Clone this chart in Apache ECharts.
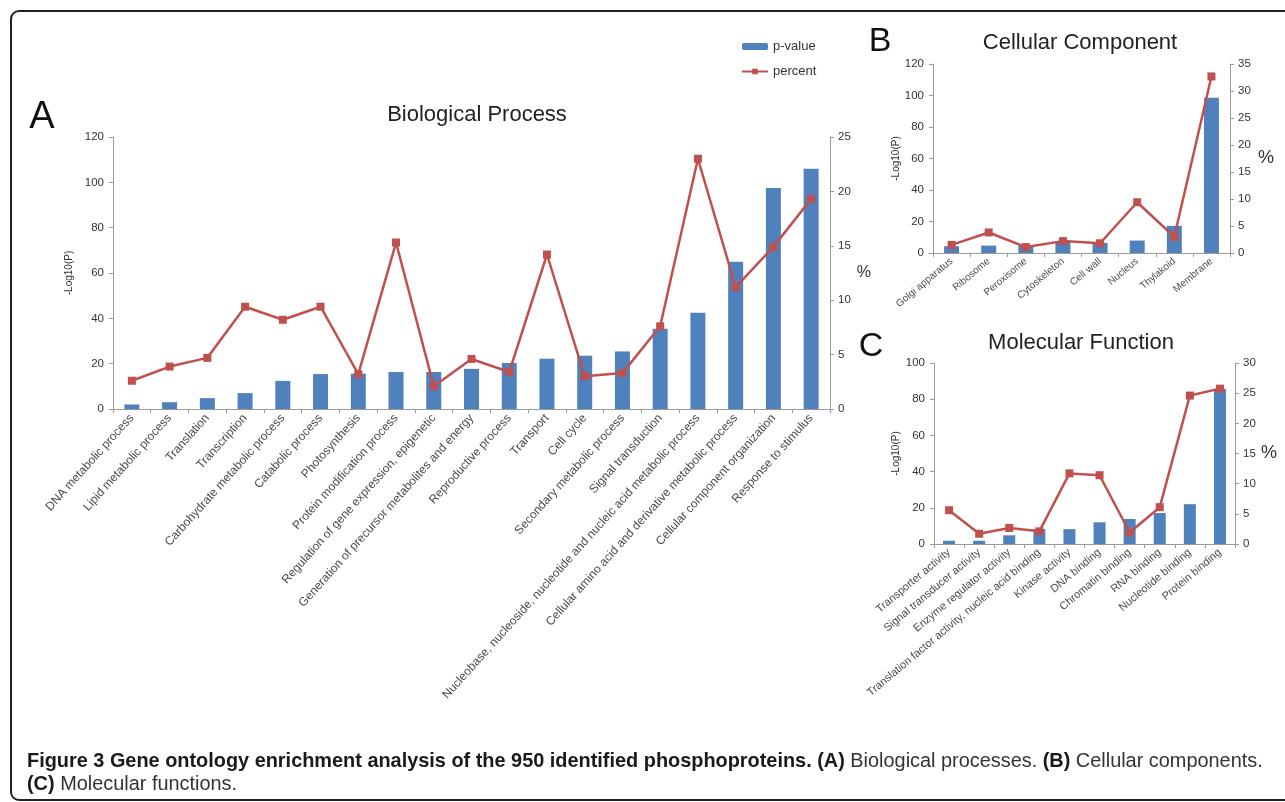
<!DOCTYPE html>
<html>
<head>
<meta charset="utf-8">
<title>Gene ontology enrichment analysis</title>
<script src="https://cdn.jsdelivr.net/npm/echarts@6/dist/echarts.min.js"></script>
<style>
  html, body { margin: 0; padding: 0; background: #fff; }
  #chart { width: 1285px; height: 802px; }
</style>
</head>
<body>
<div id="chart"></div>
<script>
// (A) Biological Process
var bpCategories = [
  'DNA metabolic process', 'Lipid metabolic process', 'Translation', 'Transcription',
  'Carbohydrate metabolic process', 'Catabolic process', 'Photosynthesis',
  'Protein modification process', 'Regulation of gene expression, epigenetic',
  'Generation of precursor metabolites and energy', 'Reproductive process', 'Transport',
  'Cell cycle', 'Secondary metabolic process', 'Signal transduction',
  'Nucleobase, nucleoside, nucleotide and nucleic acid metabolic process',
  'Cellular amino acid and derivative metabolic process',
  'Cellular component organization', 'Response to stimulus'
];
var bpPValue = [2, 3, 4.8, 7, 12.4, 15.4, 15.6, 16.3, 16.3, 17.7, 20.3, 22.2, 23.5, 25.4, 35.4, 42.5, 65, 97.5, 106];
var bpPercent = [2.6, 3.9, 4.7, 9.4, 8.2, 9.4, 3.2, 15.3, 2.1, 4.6, 3.4, 14.2, 3.0, 3.3, 7.6, 23.0, 11.2, 14.9, 19.3];

// (B) Cellular Component
var ccCategories = ['Golgi apparatus', 'Ribosome', 'Peroxisome', 'Cytoskeleton', 'Cell wall', 'Nucleus', 'Thylakoid', 'Membrane'];
var ccPValue = [4.3, 4.7, 4.5, 7.2, 6.4, 7.9, 17.2, 98.5];
var ccPercent = [1.5, 3.8, 1.1, 2.2, 1.8, 9.4, 3.0, 32.7];

// (C) Molecular Function
var mfCategories = [
  'Transporter activity', 'Signal transducer activity', 'Enzyme regulator activity',
  'Translation factor activity, nucleic acid binding', 'Kinase activity', 'DNA binding',
  'Chromatin binding', 'RNA binding', 'Nucleotide binding', 'Protein binding'
];
var mfPValue = [1.8, 1.8, 4.8, 8.3, 8.2, 12, 13.8, 17.1, 22, 85.6];
var mfPercent = [5.6, 1.7, 2.65, 2.1, 11.7, 11.4, 1.9, 6.1, 24.6, 25.75];

// axis limits [min, max, interval]
var bpLeftAxis = [0, 120, 20], bpRightAxis = [0, 25, 5];
var ccLeftAxis = [0, 120, 20], ccRightAxis = [0, 35, 5];
var mfLeftAxis = [0, 100, 20], mfRightAxis = [0, 30, 5];

var FONT = '"Liberation Sans", Arial, sans-serif';
var BLUE = '#4F81BD';
var RED = '#C0504D';
var AXIS_GRAY = '#9a9a9a';

var xAxisOf = function (gridIndex, data, rotate, size) {
  return {
    type: 'category',
    gridIndex: gridIndex,
    data: data,
    axisLine: { lineStyle: { color: AXIS_GRAY } },
    axisTick: { show: true, length: 4, lineStyle: { color: AXIS_GRAY } },
    axisLabel: { interval: 0, rotate: rotate, fontSize: size, color: '#4a4a4a', fontFamily: FONT, margin: 7 }
  };
};

var yAxisOf = function (gridIndex, lim, position, name, nameGap, nameSize) {
  return {
    type: 'value',
    gridIndex: gridIndex,
    position: position,
    min: lim[0],
    max: lim[1],
    interval: lim[2],
    name: name,
    nameLocation: 'middle',
    nameGap: nameGap,
    nameRotate: position === 'left' ? 90 : 0,
    nameTextStyle: { fontSize: nameSize, color: '#333', fontFamily: FONT },
    axisLine: { show: true, lineStyle: { color: AXIS_GRAY } },
    axisTick: { show: true, length: 4, lineStyle: { color: AXIS_GRAY } },
    splitLine: { show: false },
    axisLabel: { fontSize: 11.5, color: '#333', fontFamily: FONT, margin: position === 'left' ? 9 : 8 }
  };
};

var barOf = function (idx, data, width) {
  return {
    name: 'p-value', type: 'bar', xAxisIndex: idx, yAxisIndex: idx * 2,
    barWidth: width, itemStyle: { color: BLUE }, data: data
  };
};

var lineOf = function (idx, data) {
  return {
    name: 'percent', type: 'line', xAxisIndex: idx, yAxisIndex: idx * 2 + 1,
    symbol: 'rect', symbolSize: 8, itemStyle: { color: RED },
    lineStyle: { color: RED, width: 2.5 }, data: data
  };
};

var option = {
  backgroundColor: '#fff',
  animation: false,
  textStyle: { fontFamily: FONT },
  legend: {
    data: ['p-value', 'percent'],
    orient: 'vertical',
    left: 736,
    top: 35,
    itemWidth: 26,
    itemHeight: 7,
    itemGap: 12,
    textStyle: { fontSize: 13, color: '#333' }
  },
  grid: [
    { left: 113, top: 137, width: 717, height: 272, outerBoundsMode: 'none' },
    { left: 933, top: 64, width: 297, height: 189, outerBoundsMode: 'none' },
    { left: 934, top: 363, width: 301, height: 181, outerBoundsMode: 'none' }
  ],
  xAxis: [
    xAxisOf(0, bpCategories, 48, 12),
    xAxisOf(1, ccCategories, 40, 10),
    xAxisOf(2, mfCategories, 40, 11)
  ],
  yAxis: [
    yAxisOf(0, bpLeftAxis, 'left', '-Log10(P)', 37, 10),
    yAxisOf(0, bpRightAxis, 'right', '%', 24, 16),
    yAxisOf(1, ccLeftAxis, 'left', '-Log10(P)', 30, 10),
    yAxisOf(1, ccRightAxis, 'right', '%', 28, 18),
    yAxisOf(2, mfLeftAxis, 'left', '-Log10(P)', 33, 10),
    yAxisOf(2, mfRightAxis, 'right', '%', 26, 18)
  ],
  series: [
    barOf(0, bpPValue, 15), lineOf(0, bpPercent),
    barOf(1, ccPValue, 15), lineOf(1, ccPercent),
    barOf(2, mfPValue, 12), lineOf(2, mfPercent)
  ],
  graphic: [
    {
      type: 'rect', silent: true,
      shape: { x: 11, y: 11, width: 1300, height: 789, r: 8 },
      style: { fill: 'none', stroke: '#222', lineWidth: 2 }
    },
    { type: 'text', x: 42, y: 118, style: { text: 'A', font: '38px ' + FONT, fill: '#111', align: 'center', verticalAlign: 'middle' } },
    { type: 'text', x: 880, y: 42, style: { text: 'B', font: '34px ' + FONT, fill: '#111', align: 'center', verticalAlign: 'middle' } },
    { type: 'text', x: 871, y: 347, style: { text: 'C', font: '34px ' + FONT, fill: '#111', align: 'center', verticalAlign: 'middle' } },
    { type: 'text', x: 477, y: 115, style: { text: 'Biological Process', font: '22px ' + FONT, fill: '#222', align: 'center', verticalAlign: 'middle' } },
    { type: 'text', x: 1080, y: 43, style: { text: 'Cellular Component', font: '22px ' + FONT, fill: '#222', align: 'center', verticalAlign: 'middle' } },
    { type: 'text', x: 1081, y: 343, style: { text: 'Molecular Function', font: '22px ' + FONT, fill: '#222', align: 'center', verticalAlign: 'middle' } },
    {
      type: 'text', x: 27, y: 762,
      style: {
        text: '{b|Figure 3 Gene ontology enrichment analysis of the 950 identified phosphoproteins.} {b|(A)} {r|Biological processes.} {b|(B)} {r|Cellular components.}',
        font: '19.9px ' + FONT, verticalAlign: 'middle', fill: '#333',
        rich: {
          b: { fontSize: 19.9, fontWeight: 'bold', fontFamily: FONT, fill: '#1a1a1a' },
          r: { fontSize: 19.9, fontFamily: FONT, fill: '#333' }
        }
      }
    },
    {
      type: 'text', x: 27, y: 785,
      style: {
        text: '{b|(C)} {r|Molecular functions.}',
        font: '19.9px ' + FONT, verticalAlign: 'middle', fill: '#333',
        rich: {
          b: { fontSize: 19.9, fontWeight: 'bold', fontFamily: FONT, fill: '#1a1a1a' },
          r: { fontSize: 19.9, fontFamily: FONT, fill: '#333' }
        }
      }
    }
  ]
};

var myChart = echarts.init(document.getElementById('chart'));
myChart.setOption(option);
</script>
</body>
</html>
